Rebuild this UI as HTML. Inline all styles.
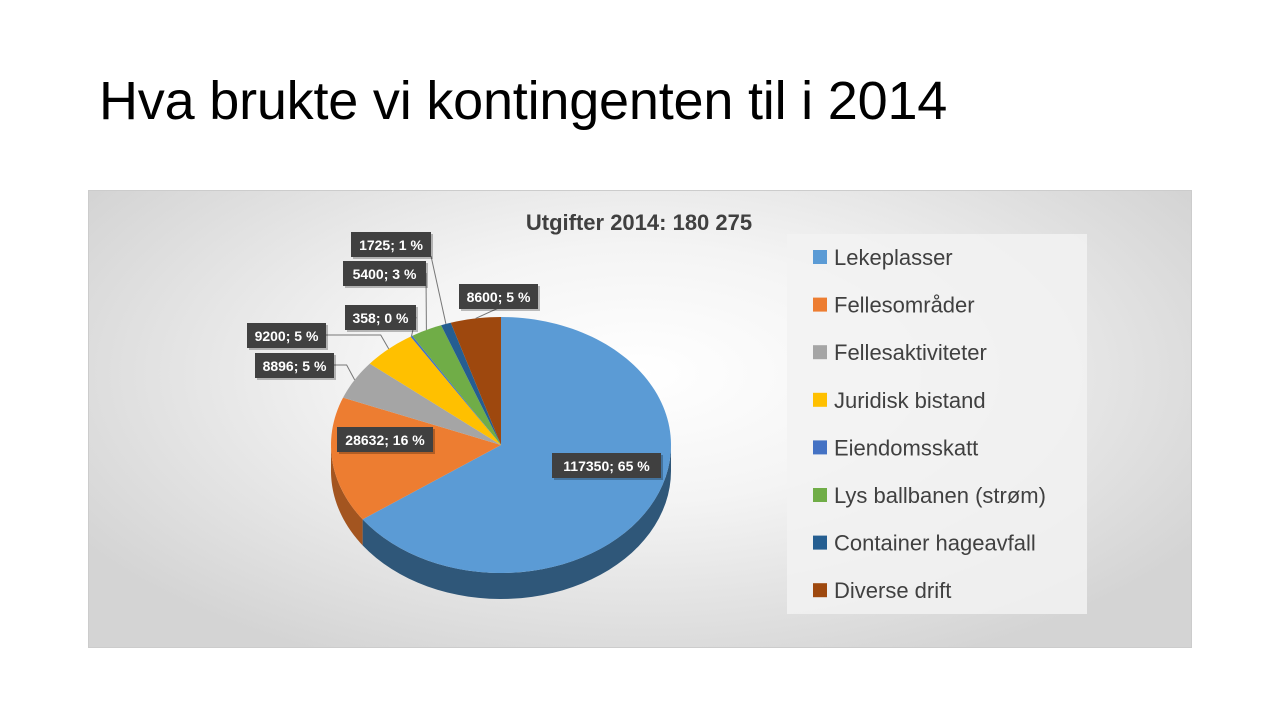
<!DOCTYPE html>
<html><head><meta charset="utf-8"><style>
body{margin:0;width:1280px;height:720px;background:#fff;overflow:hidden;font-family:"Liberation Sans",sans-serif}
#title{position:absolute;left:99px;top:70px;font-size:54px;color:#000;font-family:"Liberation Sans",sans-serif;letter-spacing:-0.2px}
#chart{position:absolute;left:88px;top:190px;width:1104px;height:458px;background:radial-gradient(ellipse 60% 70% at 50% 40%,#fff 0%,#f4f4f4 40%,#d4d4d4 100%);border:1px solid #ccc;box-sizing:border-box}
</style></head><body>
<div id="title">Hva brukte vi kontingenten til i 2014</div>
<div id="chart">
<svg id="svg" width="1104" height="458" xmlns="http://www.w3.org/2000/svg">
<text x="550" y="39" text-anchor="middle" font-size="22" font-weight="bold" fill="#404040" font-family="Liberation Sans, sans-serif">Utgifter 2014: 180 275</text>
<rect x="698" y="43" width="300" height="380" fill="#f2f2f2" opacity="0.85"/>
<g id="pie"></g><g id="lines"></g><g id="labels"></g><g id="legend"></g>
</svg></div>
<script>
const categories=["Lekeplasser","Fellesområder","Fellesaktiviteter","Juridisk bistand","Eiendomsskatt","Lys ballbanen (strøm)","Container hageavfall","Diverse drift"];
const values=[117350,28632,8896,9200,358,5400,1725,8600];
const percents=["65 %","16 %","5 %","5 %","0 %","3 %","1 %","5 %"];
const colors=["#5b9bd5","#ed7d31","#a5a5a5","#ffc000","#4472c4","#70ad47","#255e91","#9e480e"];
const sideColors=["#2f5779","#a35520","#777","#b38700","#2f5089","#4e7a31","#1a4266","#6e320a"];
const labelBoxes=[[463,262,109],[248,236,96],[166,162,79],[158,132,79],[256,114,71],[254,70,83],[262,41,80],[370,93,79]];
const NS="http://www.w3.org/2000/svg";
const cx=412,cy=254,rx=170,ry=128,depth=26;
const total=values.reduce((a,b)=>a+b,0);
function pt(a,dy){return [cx+rx*Math.sin(a),cy-ry*Math.cos(a)+(dy||0)];}
function mk(tag,attrs,parent){const e=document.createElementNS(NS,tag);for(const k in attrs)e.setAttribute(k,attrs[k]);parent.appendChild(e);return e;}
const pie=document.getElementById('pie'),lines=document.getElementById('lines'),labels=document.getElementById('labels'),legend=document.getElementById('legend');
let acc=0;const angles=[];
values.forEach(v=>{const a0=acc/total*2*Math.PI;acc+=v;angles.push([a0,acc/total*2*Math.PI]);});
angles.forEach(([a0,a1],i)=>{
 const s=Math.max(a0,Math.PI/2),e=Math.min(a1,3*Math.PI/2);
 if(e<=s)return;
 let d="";const n=40;
 for(let k=0;k<=n;k++){const p=pt(s+(e-s)*k/n);d+=(k?"L":"M")+p[0]+","+p[1];}
 for(let k=n;k>=0;k--){const p=pt(s+(e-s)*k/n,depth);d+="L"+p[0]+","+p[1];}
 const el=mk('path',{d:d+"Z",fill:sideColors[i]},pie);
 
 
});
angles.forEach(([a0,a1],i)=>{
 const p0=pt(a0);let d="M"+cx+","+cy+"L"+p0[0]+","+p0[1];
 const n=Math.max(2,Math.ceil((a1-a0)*30));
 for(let k=1;k<=n;k++){const p=pt(a0+(a1-a0)*k/n);d+="L"+p[0]+","+p[1];}
 const el=mk('path',{d:d+"Z",fill:colors[i]},pie);
 
 
 const b=labelBoxes[i];
 if(i>=2){
  const m=pt((a0+a1)/2);
  const lx=b[0]+b[2]/2<m[0]?b[0]+b[2]:b[0]+b[2]/2, ly=b[0]+b[2]/2<m[0]&&i<6?b[1]+12:b[1]+24;
  const ln=mk('polyline',{points:lx+","+ly+" "+(i<4?(m[0]-8)+","+ly+" ":"")+m[0]+","+m[1],fill:"none",stroke:"#777","stroke-width":1},lines);
  
  
 }
 const g=mk('g',{},labels);
 
 
 mk('rect',{x:b[0]+2,y:b[1]+2,width:b[2],height:25,fill:"#000",opacity:0.25},g);
 mk('rect',{x:b[0],y:b[1],width:b[2],height:25,fill:"#404040"},g);
 const t=mk('text',{x:b[0]+b[2]/2,y:b[1]+18,"text-anchor":"middle","font-size":14,"font-weight":"bold",fill:"#fff","font-family":"Liberation Sans, sans-serif"},g);
 t.textContent=values[i]+"; "+percents[i];
 const ly2=66+i*47.6;
 const sq=mk('rect',{x:724,y:ly2-7,width:14,height:14,fill:colors[i]},legend);
 
 
 const lt=mk('text',{x:745,y:ly2+8,"font-size":22,fill:"#404040","font-family":"Liberation Sans, sans-serif"},legend);
 lt.textContent=categories[i];
 
 
});
</script>
</body></html>
